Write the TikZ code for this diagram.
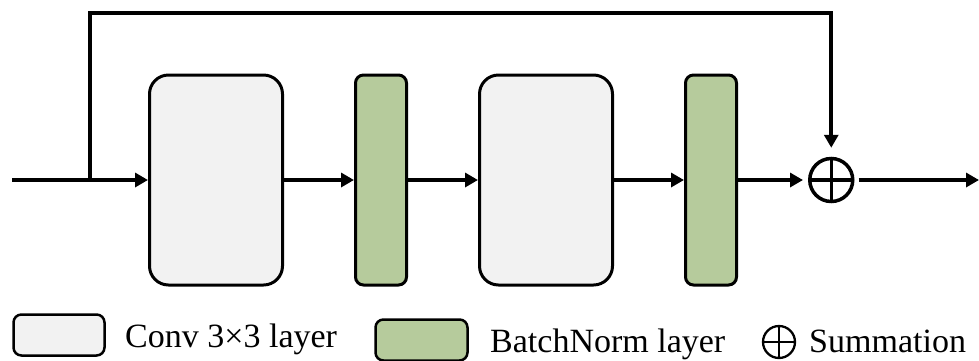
\documentclass[tikz,border=0pt]{standalone}
\usepackage{fontspec}
\setmainfont{Liberation Serif}
\usepackage{tikz}
\usetikzlibrary{positioning, arrows.meta}
\definecolor{convfill}{HTML}{F2F2F2}
\definecolor{bnfill}{HTML}{B6CB9C}

\begin{document}
\begin{tikzpicture}[
      x=1pt, y=-1pt,
      >={Triangle[length=13pt,width=14pt]},
      conv/.style={draw, line width=3pt, fill=convfill, rounded corners=19pt,
                   minimum width=133pt, minimum height=210pt, inner sep=0pt},
      bnorm/.style={draw, line width=3pt, fill=bnfill, rounded corners=8pt,
                    minimum width=51pt, minimum height=210pt, inner sep=0pt},
      summ/.style={circle, draw, line width=3.5pt, minimum size=43pt, inner sep=0pt,
                   path picture={\draw (path picture bounding box.north) -- (path picture bounding box.south)
                                       (path picture bounding box.west) -- (path picture bounding box.east);}},
      flow/.style={->, line width=4pt},
      lbl/.style={anchor=base west, inner sep=0pt, font=\fontsize{34}{40}\selectfont}
  ]
    \useasboundingbox (0,0) rectangle (979,360);
    % residual block
    \node[conv] (conv1) at (216,180) {};
    \node[bnorm, right=70pt of conv1] (bn1) {};
    \node[conv, right=70pt of bn1] (conv2) {};
    \node[bnorm, right=70pt of conv2] (bn2) {};
    \node[summ, right=70pt of bn2] (sum) {};
    \coordinate (in) at (12,180);
    \coordinate (split) at (90,180);
    \coordinate (top) at (90,13);
    \coordinate (out) at (979,180);
    \draw[flow] (in) -- (conv1);
    \draw[flow] (conv1) -- (bn1);
    \draw[flow] (bn1) -- (conv2);
    \draw[flow] (conv2) -- (bn2);
    \draw[flow, shorten >=5pt] (bn2) -- (sum);
    \draw[flow, shorten <=4pt] (sum) -- (out);
    \draw[flow, shorten >=9pt] (split) -- (top) -| (sum);
    % legend
    \node[conv, minimum width=91pt, minimum height=41pt, rounded corners=8pt, line width=2.5pt] (convkey) at (59,335) {};
    \node[lbl] (convtxt) at (125,347) {Conv 3×3 layer};
    \node[bnorm, minimum width=92pt, minimum height=41pt, line width=2.5pt] (bnkey) at (421.5,340) {};
    \node[lbl] (bntxt) at (490,352) {BatchNorm layer};
    \node[summ, minimum size=32pt, line width=2.3pt] (sumkey) at (779,342) {};
    \node[lbl] (sumtxt) at (809,352) {Summation};
  \end{tikzpicture}
\end{document}
